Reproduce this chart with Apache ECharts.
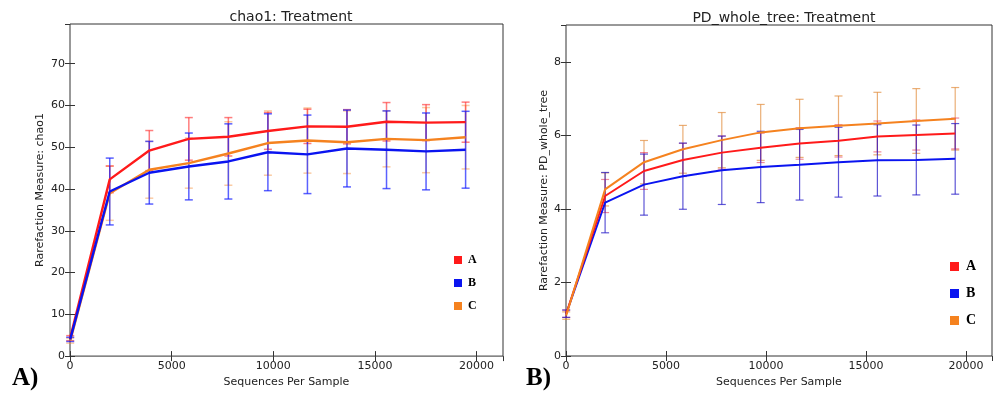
<!DOCTYPE html>
<html>
<head>
<meta charset="utf-8">
<script src="https://cdn.jsdelivr.net/npm/echarts@6/dist/echarts.min.js"></script>
<style>
html,body{margin:0;padding:0;background:#fff;}
#chart{width:993px;height:393px;}
</style>
</head>
<body>
<div id="chart"></div>
<script>
// ---- data ----
const seqs = [10, 1955, 3900, 5845, 7790, 9735, 11680, 13625, 15570, 17515, 19460];
const groups = ['A', 'B', 'C'];
const xTicks = [0, 5000, 10000, 15000, 20000];

const chao1Mean_A = [4.3, 42.3, 49.2, 52.0, 52.5, 53.9, 55.0, 54.9, 56.1, 55.9, 56.0];
const chao1Std_A  = [0.6, 3.2, 4.8, 5.1, 4.6, 4.4, 4.1, 4.1, 4.6, 4.3, 4.8];
const chao1Mean_B = [4.0, 39.4, 43.9, 45.4, 46.6, 48.8, 48.3, 49.7, 49.4, 49.0, 49.4];
const chao1Std_B  = [0.5, 8.0, 7.5, 8.0, 9.0, 9.2, 9.4, 9.2, 9.3, 9.2, 9.2];
const chao1Mean_C = [3.7, 39.0, 44.6, 46.2, 48.5, 51.0, 51.6, 51.2, 52.0, 51.7, 52.4];
const chao1Std_C  = [0.6, 6.5, 6.8, 6.0, 7.6, 7.7, 7.8, 7.5, 6.7, 7.8, 7.6];

const pdMean_A = [1.15, 4.35, 5.03, 5.33, 5.53, 5.66, 5.78, 5.85, 5.97, 6.01, 6.05];
const pdStd_A  = [0.1, 0.45, 0.5, 0.45, 0.45, 0.4, 0.43, 0.44, 0.42, 0.41, 0.42];
const pdMean_B = [1.15, 4.17, 4.66, 4.89, 5.05, 5.14, 5.20, 5.27, 5.32, 5.33, 5.36];
const pdStd_B  = [0.1, 0.82, 0.83, 0.9, 0.93, 0.97, 0.96, 0.95, 0.97, 0.95, 0.96];
const pdMean_C = [1.1, 4.53, 5.27, 5.62, 5.87, 6.08, 6.19, 6.26, 6.32, 6.39, 6.45];
const pdStd_C  = [0.1, 0.45, 0.59, 0.65, 0.75, 0.76, 0.79, 0.81, 0.85, 0.88, 0.85];

// ---- styling ----
const lineColors = {A: '#ff1a1a', B: '#0a14f0', C: '#f5821f'};
const barColorsL = {A: 'rgba(255,40,40,0.6)', B: 'rgba(20,30,255,0.7)', C: 'rgba(245,140,50,0.45)'};
const barColorsR = {A: 'rgba(230,60,90,0.6)', B: 'rgba(40,30,200,0.75)', C: 'rgba(225,140,60,0.7)'};
const FONT = 'DejaVu Sans';
const TXT = '#222';

const chart = echarts.init(document.getElementById('chart'), null, {renderer: 'canvas'});

function lineData(means) { return seqs.map((x, i) => [x, means[i]]); }
function errData(means, stds) { return seqs.map((x, i) => [x, means[i] - stds[i], means[i] + stds[i]]); }

function errSeries(name, idx, means, stds, color, lw) {
  return {
    type: 'custom', name: name, xAxisIndex: idx * 2, yAxisIndex: idx * 2, z: 2,
    data: errData(means, stds),
    encode: {x: 0, y: [1, 2]},
    itemStyle: {color: lineColors[name]},
    silent: true,
    renderItem: function (params, api) {
      const x = api.value(0);
      const lo = api.coord([x, api.value(1)]);
      const hi = api.coord([x, api.value(2)]);
      const hw = 4;
      const st = {stroke: color, lineWidth: lw};
      return {type: 'group', children: [
        {type: 'line', shape: {x1: lo[0], y1: lo[1], x2: hi[0], y2: hi[1]}, style: st},
        {type: 'line', shape: {x1: lo[0] - hw, y1: lo[1], x2: lo[0] + hw, y2: lo[1]}, style: st},
        {type: 'line', shape: {x1: hi[0] - hw, y1: hi[1], x2: hi[0] + hw, y2: hi[1]}, style: st}
      ]};
    }
  };
}
function lineSeries(name, idx, means, color, lw) {
  return {
    type: 'line', name: name, xAxisIndex: idx * 2, yAxisIndex: idx * 2, z: 3,
    data: lineData(means), showSymbol: false, symbol: 'none',
    lineStyle: {color: color, width: lw}, itemStyle: {color: color},
    emphasis: {disabled: true}
  };
}

const grids = [
  {left: 70, top: 24, width: 433, height: 334},
  {left: 566, top: 25, width: 426, height: 331}
];

function makeX(gridIndex, max, pos, showLabel) {
  return {
    type: 'value', gridIndex: gridIndex, min: 0, max: max, interval: 5000, position: pos,
    axisLine: {show: false}, splitLine: {show: false},
    axisTick: {show: true, inside: true, length: 5, lineStyle: {color: '#333'}},
    axisLabel: {show: showLabel, color: TXT, fontFamily: FONT, fontSize: 11, margin: 5, showMaxLabel: false,
      formatter: v => (xTicks.indexOf(v) >= 0 ? String(v) : '')},
    name: showLabel ? 'Sequences Per Sample' : '', nameLocation: 'middle', nameGap: 20,
    nameTextStyle: {color: TXT, fontFamily: FONT, fontSize: 11}
  };
}
function makeY(gridIndex, max, interval, pos, showLabel, name, gap) {
  return {
    type: 'value', gridIndex: gridIndex, min: 0, max: max, interval: interval, position: pos,
    axisLine: {show: false}, splitLine: {show: false},
    axisTick: {show: true, inside: true, length: 5, lineStyle: {color: '#333'}},
    axisLabel: {show: showLabel, color: TXT, fontFamily: FONT, fontSize: 11, margin: 5, showMaxLabel: false,
      formatter: v => (Math.abs(v / interval - Math.round(v / interval)) < 1e-9 ? String(v) : '')},
    name: showLabel ? name : '', nameLocation: 'middle', nameGap: gap, nameRotate: 90,
    nameTextStyle: {color: TXT, fontFamily: FONT, fontSize: 11}
  };
}

const option = {
  animation: false,
  backgroundColor: '#fff',
  title: [
    {text: 'chao1: Treatment', left: 286, top: 5, textAlign: 'center',
     textStyle: {fontFamily: FONT, fontSize: 14, fontWeight: 'normal', color: TXT}},
    {text: 'PD_whole_tree: Treatment', left: 779, top: 6, textAlign: 'center',
     textStyle: {fontFamily: FONT, fontSize: 14, fontWeight: 'normal', color: TXT}},
    {text: 'A)', left: 7, top: 361,
     textStyle: {fontFamily: 'Liberation Serif', fontSize: 25, fontWeight: 'bold', color: '#000'}},
    {text: 'B)', left: 521, top: 361,
     textStyle: {fontFamily: 'Liberation Serif', fontSize: 25, fontWeight: 'bold', color: '#000'}}
  ],
  grid: grids.map(g => Object.assign({show: true, borderColor: '#333', borderWidth: 1, backgroundColor: 'transparent'}, g)),
  xAxis: [
    makeX(0, 21300, 'bottom', true), makeX(0, 21300, 'top', false),
    makeX(1, 21300, 'bottom', true), makeX(1, 21300, 'top', false)
  ],
  yAxis: [
    makeY(0, 79.5, 10, 'left', true, 'Rarefaction Measure: chao1', 24),
    makeY(0, 79.5, 10, 'right', false, '', 0),
    makeY(1, 9, 2, 'left', true, 'Rarefaction Measure: PD_whole_tree', 16),
    makeY(1, 9, 2, 'right', false, '', 0)
  ],
  legend: [
    {data: groups, orient: 'vertical', left: 449, top: 248, itemWidth: 8, itemHeight: 8, itemGap: 9,
     icon: 'rect', selectedMode: false, itemStyle: {borderWidth: 0},
     textStyle: {fontFamily: 'Liberation Serif', fontWeight: 'bold', fontSize: 12, color: '#000', lineHeight: 10, padding: [0, 0, 4, 1]}},
    {data: groups, orient: 'vertical', left: 945, top: 254, itemWidth: 9, itemHeight: 9, itemGap: 12,
     icon: 'rect', selectedMode: false, itemStyle: {borderWidth: 0},
     textStyle: {fontFamily: 'Liberation Serif', fontWeight: 'bold', fontSize: 14, color: '#000', lineHeight: 11, padding: [0, 0, 4, 2]}}
  ],
  series: [
    errSeries('C', 0, chao1Mean_C, chao1Std_C, barColorsL.C, 1.5),
    errSeries('A', 0, chao1Mean_A, chao1Std_A, barColorsL.A, 1.5),
    errSeries('B', 0, chao1Mean_B, chao1Std_B, barColorsL.B, 1.5),
    lineSeries('C', 0, chao1Mean_C, lineColors.C, 2.4),
    lineSeries('A', 0, chao1Mean_A, lineColors.A, 2.4),
    lineSeries('B', 0, chao1Mean_B, lineColors.B, 2.4),

    errSeries('C', 1, pdMean_C, pdStd_C, barColorsR.C, 1.2),
    errSeries('A', 1, pdMean_A, pdStd_A, barColorsR.A, 1.2),
    errSeries('B', 1, pdMean_B, pdStd_B, barColorsR.B, 1.2),
    lineSeries('B', 1, pdMean_B, lineColors.B, 2),
    lineSeries('A', 1, pdMean_A, lineColors.A, 2),
    lineSeries('C', 1, pdMean_C, lineColors.C, 2)
  ]
};
chart.setOption(option);
</script>
</body>
</html>
